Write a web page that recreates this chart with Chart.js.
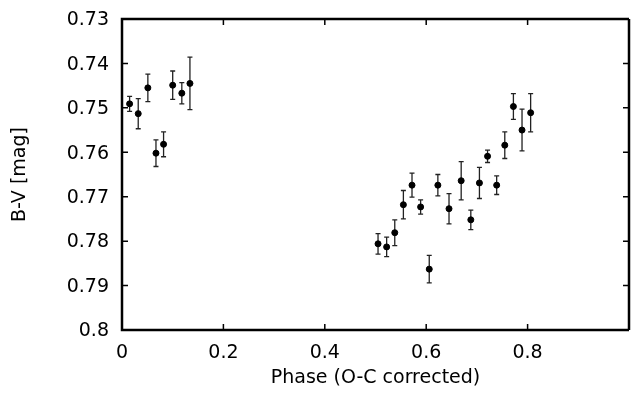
<!DOCTYPE html>
<html><head><meta charset="utf-8">
<script src="https://cdn.jsdelivr.net/npm/chart.js@4"></script>
<style>
html,body{margin:0;padding:0;background:#fff;overflow:hidden;width:631px;height:395px}
#wrap{width:633px;height:395px;position:relative}
</style></head>
<body><div id="wrap"><canvas id="c" width="633" height="395"></canvas></div>
<script>
const phase = [0.015, 0.032, 0.051, 0.067, 0.082, 0.100, 0.118, 0.134,
  0.505, 0.522, 0.538, 0.555, 0.572, 0.589, 0.606, 0.623, 0.645, 0.669,
  0.688, 0.705, 0.721, 0.739, 0.755, 0.772, 0.789, 0.806];
const bv = [0.7491, 0.7513, 0.7455, 0.7602, 0.7582, 0.7449, 0.7467, 0.7445,
  0.7806, 0.7813, 0.7781, 0.7718, 0.7674, 0.7723, 0.7863, 0.7674, 0.7727, 0.7664,
  0.7752, 0.7669, 0.7609, 0.7674, 0.7584, 0.7497, 0.7550, 0.7511];
const bvErr = [0.0017, 0.0034, 0.0031, 0.0030, 0.0028, 0.0032, 0.0024, 0.0059,
  0.0023, 0.0022, 0.0029, 0.0032, 0.0027, 0.0016, 0.0031, 0.0024, 0.0034, 0.0043,
  0.0022, 0.0035, 0.0014, 0.0021, 0.0030, 0.0029, 0.0047, 0.0043];
const xTicks = [0, 0.2, 0.4, 0.6, 0.8];
const yTicks = [0.73, 0.74, 0.75, 0.76, 0.77, 0.78, 0.79, 0.8];
const xTitle = 'Phase (O-C corrected)';
const yTitle = 'B-V [mag]';

const FONT = {family: '"DejaVu Sans", sans-serif', size: 19};

const points = phase.map((p, i) => ({x: p, y: bv[i]}));

const framePlugin = {
  id: 'frame',
  beforeDatasetsDraw(chart) {
    const ctx = chart.ctx, xs = chart.scales.x, ys = chart.scales.y;
    ctx.save();
    ctx.strokeStyle = '#222';
    ctx.lineWidth = 1.3;
    phase.forEach((p, i) => {
      const px = xs.getPixelForValue(p);
      const y1 = ys.getPixelForValue(bv[i] - bvErr[i]);
      const y2 = ys.getPixelForValue(bv[i] + bvErr[i]);
      ctx.beginPath();
      ctx.moveTo(px, y1); ctx.lineTo(px, y2);
      ctx.moveTo(px - 2.5, y1); ctx.lineTo(px + 2.5, y1);
      ctx.moveTo(px - 2.5, y2); ctx.lineTo(px + 2.5, y2);
      ctx.stroke();
    });
    ctx.restore();
  },
  afterDraw(chart) {
    const ctx = chart.ctx, a = chart.chartArea, xs = chart.scales.x, ys = chart.scales.y;
    ctx.save();
    ctx.strokeStyle = '#000';
    ctx.lineWidth = 1.5;
    ctx.beginPath();
    xTicks.forEach(v => {
      const px = xs.getPixelForValue(v);
      ctx.moveTo(px, a.bottom); ctx.lineTo(px, a.bottom - 6);
      ctx.moveTo(px, a.top); ctx.lineTo(px, a.top + 6);
    });
    yTicks.forEach(v => {
      const py = ys.getPixelForValue(v);
      ctx.moveTo(a.left, py); ctx.lineTo(a.left + 6, py);
      ctx.moveTo(a.right, py); ctx.lineTo(a.right - 6, py);
    });
    ctx.stroke();
    ctx.lineWidth = 2.5;
    ctx.beginPath();
    ctx.moveTo(a.left, a.top); ctx.lineTo(a.right, a.top);
    ctx.moveTo(a.left, a.top - 1.25); ctx.lineTo(a.left, a.bottom + 1.25);
    ctx.moveTo(a.left - 1.25, a.bottom); ctx.lineTo(a.right, a.bottom);
    ctx.moveTo(a.right, a.top); ctx.lineTo(a.right, a.bottom);
    ctx.stroke();
    ctx.restore();
  }
};

new Chart(document.getElementById('c'), {
  type: 'scatter',
  data: {
    datasets: [{
      data: points,
      backgroundColor: '#000',
      borderColor: '#000',
      pointRadius: 3,
      borderWidth: 1,
      pointHoverRadius: 3
    }]
  },
  options: {
    responsive: false,
    animation: false,
    devicePixelRatio: 1,
    layout: {padding: {top: 19, left: 0, right: 0, bottom: 0}},
    plugins: {legend: {display: false}, tooltip: {enabled: false}},
    scales: {
      x: {
        type: 'linear', min: 0, max: 1,
        afterBuildTicks: s => { s.ticks = xTicks.map(v => ({value: v})); },
        afterFit: s => { s.height = 65; s.paddingLeft = 0; s.paddingRight = 0; },
        grid: {display: false, drawTicks: false},
        border: {display: false},
        ticks: {color: '#000', font: FONT, padding: 12, maxRotation: 0, autoSkip: false,
          callback: v => String(v)},
        title: {display: true, text: xTitle, color: '#000', font: FONT, padding: {top: 0, bottom: 5.2}}
      },
      y: {
        type: 'linear', min: 0.73, max: 0.8, reverse: true,
        afterBuildTicks: s => { s.ticks = yTicks.map(v => ({value: v})); },
        afterFit: s => { s.width = 122; s.paddingTop = 0; s.paddingBottom = 0; },
        grid: {display: false, drawTicks: false},
        border: {display: false},
        ticks: {color: '#000', font: FONT, padding: 13, labelOffset: 1.3, autoSkip: false,
          callback: v => String(v)},
        title: {display: true, text: yTitle, color: '#000', font: FONT, padding: {top: 8.9, bottom: 0}}
      }
    }
  },
  plugins: [framePlugin]
});
</script>
</body></html>
